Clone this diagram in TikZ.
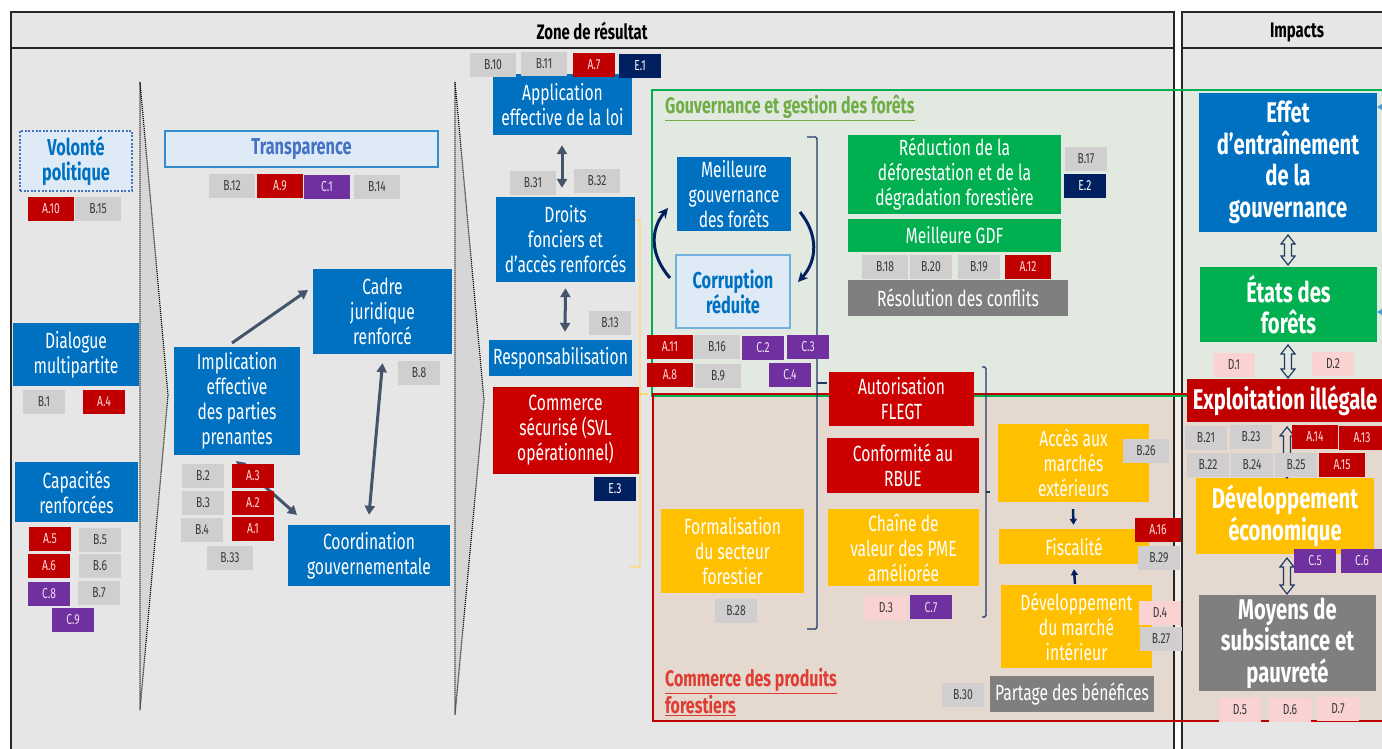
\documentclass[tikz,border=0pt]{standalone}
\usepackage{fontspec}
\setmainfont{Fira Sans}[FakeStretch=0.71]
\usetikzlibrary{arrows.meta,calc}
\definecolor{cblue}{HTML}{0070C0}
\definecolor{cred}{HTML}{C00000}
\definecolor{credb}{HTML}{CC0000}
\definecolor{cgreen}{HTML}{00B050}
\definecolor{cyellow}{HTML}{FFC000}
\definecolor{cgrey}{HTML}{7F7F7F}
\definecolor{ctag}{HTML}{D0CECE}
\definecolor{ctagtxt}{HTML}{3A3A3A}
\definecolor{cpurple}{HTML}{7030A0}
\definecolor{cnavy}{HTML}{002060}
\definecolor{cpink}{HTML}{FAD2D2}
\definecolor{cbg}{HTML}{E7E6E6}
\definecolor{cchev}{HTML}{D6D6D6}
\definecolor{clight}{HTML}{DEEBF7}
\definecolor{cgovfill}{HTML}{E2E9E0}
\definecolor{ccomfill}{HTML}{E4D8CF}
\definecolor{cgovtxt}{HTML}{70AD47}
\definecolor{ccomtxt}{HTML}{E03C31}
\definecolor{carrow}{HTML}{44546A}
\definecolor{cbrack}{HTML}{1F3864}
\definecolor{cyelbr}{HTML}{FFD966}
\definecolor{ctransp}{HTML}{4472C4}
\definecolor{cframe}{HTML}{262626}
\newcommand\fsMain{\fontsize{22}{25}\selectfont}
\newcommand\fsBig{\fontsize{28.5}{31.5}\selectfont\bfseries}
\newcommand\fsTag{\fontsize{14.5}{14.5}\selectfont}
\newcommand\fsHdr{\fontsize{21}{21}\selectfont\bfseries}
\newcommand\fsLbl{\fontsize{22.5}{24}\selectfont\bfseries}
\newcommand\bx[7]{%
  \pgfmathsetmacro\bxW{#4-#2}\pgfmathsetmacro\bxH{#5-#3}%
  \pgfmathsetmacro\bxX{(#2+#4)/2}\pgfmathsetmacro\bxY{(#3+#5)/2}%
  \node[#1,minimum width=\bxW pt,minimum height=\bxH pt] (#6) at (\bxX,\bxY) {#7};}
\newcommand\harrow[2]{\draw[hollow] (#1) -- ($(#1)+(7,9)$) -- ($(#1)+(3.5,9)$) -- ($(#2)+(3.5,-9)$) -- ($(#2)+(7,-9)$) -- (#2) -- ($(#2)+(-7,-9)$) -- ($(#2)+(-3.5,-9)$) -- ($(#1)+(-3.5,9)$) -- ($(#1)+(-7,9)$) -- cycle;}
\begin{document}
\begin{tikzpicture}[x=1pt,y=-1pt,
  box/.style={inner sep=0pt, align=center, text=white, font=\fsMain},
  bluebox/.style={box, fill=cblue},
  redbox/.style={box, fill=credb},
  greenbox/.style={box, fill=cgreen},
  yelbox/.style={box, fill=cyellow},
  greybox/.style={box, fill=cgrey},
  bigbox/.style={font=\fsBig},
  lightbox/.style={inner sep=0pt, fill=clight, align=center, text=cblue, font=\fontsize{23}{25}\selectfont\bfseries},
  tagbase/.style={inner sep=0pt, font=\fsTag},
  tgg/.style={tagbase, fill=ctag, text=ctagtxt},
  tgr/.style={tagbase, fill=cred, text=red!15},
  tgp/.style={tagbase, fill=cpurple, text=cpurple!15},
  tgn/.style={tagbase, fill=cnavy, text=white},
  tgk/.style={tagbase, fill=cpink, text=ctagtxt},
  chev/.style={fill=cchev, draw=black, line width=1.2pt, dash pattern=on 1pt off 1pt},
  colframe/.style={draw=cframe, line width=1.6pt},
  hdr/.style={font=\fsHdr, text=black, inner sep=0pt},
  sarrow/.style={draw=carrow, line width=3pt, -{Triangle[length=9pt,width=10pt]}},
  darrow/.style={draw=carrow, line width=3pt, {Triangle[length=9pt,width=10pt]}-{Triangle[length=9pt,width=10pt]}},
  narrow/.style={draw=cnavy, line width=3pt, -{Stealth[length=10pt,width=10pt]}},
  smallarrow/.style={draw=cnavy, line width=2.5pt, -{Triangle[length=6pt,width=7pt]}},
  brk/.style={draw=cbrack, line width=1.3pt, rounded corners=1.5pt},
  ybrk/.style={draw=cyelbr, line width=1.3pt, rounded corners=1.5pt},
  hollow/.style={draw=cbrack, line width=1.2pt, line join=miter},
]
\useasboundingbox (0,0) rectangle (1382,749);
\clip (0,0) rectangle (1382,749);
\fill[white] (0,0) rectangle (1382,749);
\fill[cbg] (11,12) rectangle (1174,770);
\fill[cbg] (1182,12) rectangle (1400,770);
% chevrons
\draw[chev] (140,82) -- (168,395) -- (140,710) -- cycle;
\draw[chev] (455,82) -- (484,400) -- (455,715) -- cycle;
% thematic frames (fill)
\fill[cgovfill] (652,90) rectangle (1400,395);
\fill[ccomfill] (653,395) rectangle (1400,721);
\fill[white,opacity=0.55] (1175,90) rectangle (1181,721);
% column frames
\draw[colframe] (11,12) rectangle (1174,770);
\draw[colframe] (11,48) -- (1174,48);
\draw[colframe] (1182,12) rectangle (1400,770);
\draw[colframe] (1182,48) -- (1400,48);
\node[hdr] (zone) at (592,31) {Zone de résultat};
\node[hdr, anchor=base] (impacts) at (1297,38) {Impacts};
% thematic frames (border)
\draw[cgreen, line width=2.5pt] (652,90) rectangle (1400,396);
\draw[cred, line width=2.5pt] (653,394) rectangle (1400,721);
\node[font=\fsLbl, text=cgovtxt, anchor=base west, inner sep=0pt] (govlbl) at (665,114) {\underline{Gouvernance et gestion des forêts}};
\node[font=\fsLbl, text=ccomtxt, anchor=west, align=left, inner sep=0pt] (comlbl) at (665,692) {\underline{Commerce des produits}\\\underline{forestiers}};
% brackets
\draw[ybrk] (632,220) -- (640,220) -- (640,567) -- (630,567);
\draw[ybrk] (640,394) -- (648,394);
\draw[brk] (807,137) -- (817,137) -- (817,629) -- (807,629);
\draw[brk] (817,383) -- (827,383);
\draw[brk] (982,367) -- (986,367) -- (986,617) -- (982,617);
\draw[brk] (986,492) -- (990,492);
% left column
\bx{lightbox, draw=ctransp, line width=2pt, dash pattern=on 2pt off 1.6pt}{20}{131}{132}{191}{volonte}{Volonté\\politique}
\bx{bluebox}{13}{323}{139}{386}{dialogue}{Dialogue\\multipartite}
\bx{bluebox}{15}{462}{138}{522}{capac}{Capacités\\renforcées}
% middle column
\bx{lightbox, draw=cblue!80, line width=1.5pt, text=ctransp}{165}{131}{438}{167}{transp}{Transparence}
\bx{bluebox}{174}{347}{300}{455}{impl}{Implication\\effective\\des parties\\prenantes}
\bx{bluebox}{313}{269}{452}{354}{cadre}{Cadre\\juridique\\renforcé}
\bx{bluebox}{288}{525}{450}{586}{coord}{Coordination\\gouvernementale}
% third column
\bx{bluebox}{493}{74}{632}{135}{appli}{Application\\effective de la loi}
\bx{bluebox}{496}{197}{635}{282}{droits}{Droits\\fonciers et\\d’accès renforcés}
\bx{bluebox}{489}{340}{632}{376}{resp}{Responsabilisation}
\bx{redbox, draw=red!70!black, line width=0.8pt}{493}{387}{638}{473}{comm}{Commerce\\sécurisé (SVL\\opérationnel)}
% governance frame
\bx{bluebox}{677}{157}{791}{231}{meil}{Meilleure\\gouvernance\\des forêts}
\bx{lightbox, draw=cblue!55, line width=1.5pt}{676}{255}{790}{328}{corr}{Corruption\\réduite}
\bx{greenbox}{848}{135}{1061}{214}{reduc}{Réduction de la\\déforestation et de la\\dégradation forestière}
\bx{greenbox}{848}{219}{1061}{252}{gdf}{Meilleure GDF}
\bx{greybox}{848}{280}{1068}{316}{resol}{Résolution des conflits}
% trade frame
\bx{redbox}{829}{372}{974}{426}{flegt}{Autorisation\\FLEGT}
\bx{redbox}{827}{438}{979}{493}{rbue}{Conformité au\\RBUE}
\bx{yelbox}{828}{509}{979}{586}{pme}{Chaîne de\\valeur des PME\\améliorée}
\bx{yelbox}{661}{509}{804}{593}{formal}{Formalisation\\du secteur\\forestier}
\bx{yelbox}{998}{424}{1149}{502}{acces}{Accès aux\\marchés\\extérieurs}
\bx{yelbox}{999}{529}{1149}{564}{fisc}{Fiscalité}
\bx{yelbox}{1001}{585}{1152}{668}{devm}{Développement\\du marché\\intérieur}
\bx{greybox}{990}{676}{1154}{712}{partage}{Partage des bénéfices}
% impacts
\bx{bluebox,bigbox}{1199}{93}{1377}{232}{effet}{Effet\\d’entraînement\\de la\\gouvernance}
\bx{greenbox,bigbox}{1200}{267}{1377}{342}{etats}{États des\\forêts}
\bx{redbox,bigbox,fill=cred}{1187}{379}{1383}{422}{exploit}{Exploitation illégale}
\bx{yelbox,bigbox}{1196}{478}{1374}{554}{deveco}{Développement\\économique}
\bx{greybox,bigbox}{1199}{595}{1376}{691}{moyens}{Moyens de\\subsistance et\\pauvreté}
% connectors
\coordinate (i1) at (232,343); \coordinate (c1) at (308,290);
\draw[sarrow] (i1) -- (c1);
\coordinate (i2) at (236,461); \coordinate (c2) at (297,515);
\draw[darrow] (i2) -- (c2);
\draw[darrow] ($(cadre.south)+(0,9)$) -- ($(coord.north)+(0,-10)$);
\draw[darrow] ($(appli.south)+(-0.5,10)$) -- ($(droits.north)+(-3.5,-9)$);
\draw[darrow] ($(droits.south)+(0,6)$) -- ($(resp.north)+(4.5,-8)$);
\coordinate (m1s) at (670,278); \coordinate (m1e) at (668,208);
\draw[narrow] (m1s) .. controls (650,255) and (650,230) .. (m1e);
\coordinate (m2s) at (800,212); \coordinate (m2e) at (798,282);
\draw[narrow] (m2s) .. controls (818,234) and (818,260) .. (m2e);
\draw[smallarrow] ($(acces.south)+(-0.5,7)$) -- ($(fisc.north)+(-0.5,-4)$);
\draw[smallarrow] ($(devm.north)+(-1.5,-1)$) -- ($(fisc.south)+(0,5)$);
\coordinate (h1a) at (1288,235); \coordinate (h1b) at (1288,265);
\coordinate (h2a) at (1288,345); \coordinate (h2b) at (1288,378);
\coordinate (h3a) at (1287,427); \coordinate (h3b) at (1287,478);
\coordinate (h4a) at (1287,558); \coordinate (h4b) at (1287,594);
\harrow{h1a}{h1b}
\harrow{h2a}{h2b}
\harrow{h3a}{h3b}
\harrow{h4a}{h4b}
\coordinate (r1s) at (1390,107); \coordinate (r1e) at (1377,107);
\coordinate (r2s) at (1390,312); \coordinate (r2e) at (1377,312);
\draw[draw=cblue!70, line width=1.5pt, -{Triangle[length=6pt,width=7pt]}] (r1s) -- (r1e);
\draw[draw=cblue!70, line width=1.5pt, -{Triangle[length=6pt,width=7pt]}] (r2s) -- (r2e);
% tags
\bx{tgr}{28}{197}{74}{221}{ta10}{A.10}
\bx{tgg}{75}{197}{121}{221}{tb15}{B.15}
\bx{tgg}{23}{390}{65}{414}{tb1}{B.1}
\bx{tgr}{83}{390}{125}{414}{ta4}{A.4}
\bx{tgr}{29}{527}{71}{551}{ta5}{A.5}
\bx{tgg}{79}{528}{121}{552}{tb5}{B.5}
\bx{tgr}{28}{554}{70}{578}{ta6}{A.6}
\bx{tgg}{79}{554}{121}{578}{tb6}{B.6}
\bx{tgp}{28}{582}{70}{606}{tc8}{C.8}
\bx{tgg}{78}{581}{120}{605}{tb7}{B.7}
\bx{tgp}{52}{608}{94}{632}{tc9}{C.9}
\bx{tgg}{209}{174}{255}{198}{tb12}{B.12}
\bx{tgr}{257}{174}{303}{198}{ta9}{A.9}
\bx{tgp}{304}{175}{350}{199}{tc1}{C.1}
\bx{tgg}{354}{175}{400}{199}{tb14}{B.14}
\bx{tgg}{398}{361}{440}{385}{tb8}{B.8}
\bx{tgg}{182}{464}{224}{488}{tb2}{B.2}
\bx{tgr}{232}{464}{274}{488}{ta3}{A.3}
\bx{tgg}{182}{491}{224}{515}{tb3}{B.3}
\bx{tgr}{232}{491}{274}{515}{ta2}{A.2}
\bx{tgg}{181}{518}{223}{542}{tb4}{B.4}
\bx{tgr}{232}{517}{274}{541}{ta1}{A.1}
\bx{tgg}{207}{546}{253}{570}{tb33}{B.33}
\bx{tgg}{470}{53}{516}{77}{tb10}{B.10}
\bx{tgg}{521}{52}{567}{76}{tb11}{B.11}
\bx{tgr}{573}{53}{615}{77}{ta7}{A.7}
\bx{tgn}{619}{54}{661}{78}{te1}{E.1}
\bx{tgg}{510}{171}{556}{195}{tb31}{B.31}
\bx{tgg}{574}{169}{620}{193}{tb32}{B.32}
\bx{tgg}{589}{311}{631}{335}{tb13}{B.13}
\bx{tgn}{594}{477}{636}{501}{te3}{E.3}
\bx{tgr}{647}{335}{693}{359}{ta11}{A.11}
\bx{tgg}{694}{335}{740}{359}{tb16}{B.16}
\bx{tgp}{742}{336}{784}{360}{tc2}{C.2}
\bx{tgp}{787}{335}{829}{359}{tc3}{C.3}
\bx{tgr}{647}{363}{693}{387}{ta8}{A.8}
\bx{tgg}{695}{364}{741}{388}{tb9}{B.9}
\bx{tgp}{769}{363}{811}{387}{tc4}{C.4}
\bx{tgg}{1065}{147}{1107}{171}{tb17}{B.17}
\bx{tgn}{1064}{174}{1106}{198}{te2}{E.2}
\bx{tgg}{862}{255}{908}{279}{tb18}{B.18}
\bx{tgg}{910}{255}{952}{279}{tb20}{B.20}
\bx{tgg}{958}{255}{1000}{279}{tb19}{B.19}
\bx{tgr}{1005}{255}{1051}{279}{ta12}{A.12}
\bx{tgk}{865}{596}{907}{620}{td3}{D.3}
\bx{tgp}{910}{595}{952}{619}{tc7}{C.7}
\bx{tgg}{715}{599}{757}{623}{tb28}{B.28}
\bx{tgg}{1123}{439}{1169}{463}{tb26}{B.26}
\bx{tgr}{1135}{518}{1181}{542}{ta16}{A.16}
\bx{tgg}{1138}{546}{1180}{570}{tb29}{B.29}
\bx{tgk}{1139}{601}{1181}{625}{td4}{D.4}
\bx{tgg}{1140}{627}{1182}{651}{tb27}{B.27}
\bx{tgg}{942}{683}{984}{707}{tb30}{B.30}
\bx{tgk}{1213}{353}{1255}{377}{td1}{D.1}
\bx{tgk}{1312}{352}{1354}{376}{td2}{D.2}
\bx{tgg}{1185}{426}{1227}{450}{tb21}{B.21}
\bx{tgg}{1230}{425}{1272}{449}{tb23}{B.23}
\bx{tgr}{1292}{425}{1338}{449}{ta14}{A.14}
\bx{tgr}{1339}{426}{1385}{450}{ta13}{A.13}
\bx{tgg}{1187}{453}{1229}{477}{tb22}{B.22}
\bx{tgg}{1231}{453}{1273}{477}{tb24}{B.24}
\bx{tgg}{1275}{453}{1317}{477}{tb25}{B.25}
\bx{tgr}{1319}{453}{1365}{477}{ta15}{A.15}
\bx{tgp}{1294}{549}{1336}{573}{tc5}{C.5}
\bx{tgp}{1341}{549}{1383}{573}{tc6}{C.6}
\bx{tgk}{1219}{698}{1261}{722}{td5}{D.5}
\bx{tgk}{1269}{698}{1311}{722}{td6}{D.6}
\bx{tgk}{1317}{697}{1359}{721}{td7}{D.7}
\end{tikzpicture}
\end{document}
